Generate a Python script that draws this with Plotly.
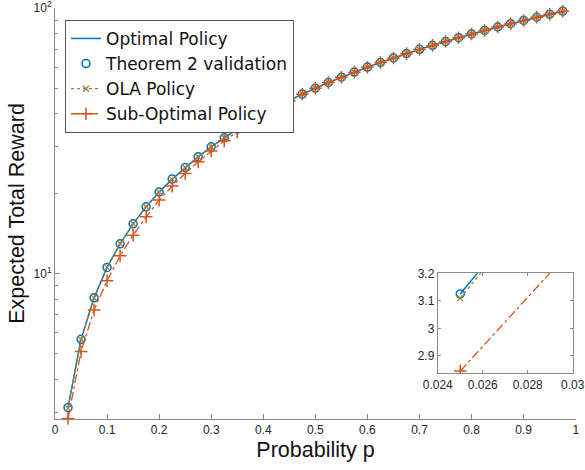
import plotly.graph_objects as go

p = [0.025, 0.05, 0.075, 0.1, 0.125, 0.15, 0.175, 0.2, 0.225, 0.25,
     0.275, 0.3, 0.325, 0.35, 0.375, 0.4, 0.425, 0.45, 0.475, 0.5,
     0.525, 0.55, 0.575, 0.6, 0.625, 0.65, 0.675, 0.7, 0.725, 0.75,
     0.775, 0.8, 0.825, 0.85, 0.875, 0.9, 0.925, 0.95, 0.975]

optimal = [3.125, 5.65, 8.10, 10.55, 12.95, 15.40, 17.85, 20.30, 22.70, 25.10,
           27.55, 30.05, 32.50, 35.00, 37.50, 40.00, 42.50, 45.00, 47.50, 50.0,
           52.5, 55.0, 57.5, 60.0, 62.5, 65.0, 67.5, 70.0, 72.5, 75.0,
           77.5, 80.0, 82.5, 85.0, 87.5, 90.0, 92.5, 95.0, 97.5]

theorem2 = list(optimal)

ola = [3.11, 5.65, 8.10, 10.55, 12.95, 15.40, 17.85, 20.30, 22.70, 25.10,
       27.55, 30.05, 32.50, 35.00, 37.50, 40.00, 42.50, 45.00, 47.50, 50.0,
       52.5, 55.0, 57.5, 60.0, 62.5, 65.0, 67.5, 70.0, 72.5, 75.0,
       77.5, 80.0, 82.5, 85.0, 87.5, 90.0, 92.5, 95.0, 97.5]

suboptimal = [2.845, 5.08, 7.29, 9.40, 11.67, 13.96, 16.36, 18.92, 21.36, 23.84,
              26.37, 29.00, 31.64, 34.20, 36.90, 39.50, 42.20, 44.85, 47.40, 49.95,
              52.45, 54.95, 57.45, 59.95, 62.45, 64.95, 67.45, 69.95, 72.45, 74.95,
              77.45, 79.95, 82.45, 84.95, 87.45, 89.95, 92.45, 94.95, 97.45]

x_ticks = [0, 0.1, 0.2, 0.3, 0.4, 0.5, 0.6, 0.7, 0.8, 0.9, 1]
x_ticklabels = ["0", "0.1", "0.2", "0.3", "0.4", "0.5", "0.6", "0.7", "0.8", "0.9", "1"]
y_ticks = [10, 100]
y_ticklabels = ["10<sup>1</sup>", "10<sup>2</sup>"]
y_minor = [3, 4, 5, 6, 7, 8, 9, 20, 30, 40, 50, 60, 70, 80, 90]

inset_x_ticks = [0.024, 0.026, 0.028, 0.03]
inset_x_labels = ["0.024", "0.026", "0.028", "0.03"]
inset_y_ticks = [2.9, 3.0, 3.1, 3.2]
inset_y_labels = ["2.9", "3", "3.1", "3.2"]

BLUE = "#0072BD"
ORANGE = "#D95319"
OLIVE = "#9E8030"
AXC = "#8a8a8a"
TXT = "#262626"
FONT = "Liberation Sans, Arial, Helvetica, sans-serif"

fig = go.Figure()

def add_traces(xa, ya, show, clip):
    fig.add_trace(go.Scatter(x=p, y=optimal, mode="lines", name="Optimal Policy",
                             line=dict(color=BLUE, width=1.5), xaxis=xa, yaxis=ya,
                             showlegend=show, cliponaxis=clip))
    fig.add_trace(go.Scatter(x=p, y=theorem2, mode="markers", name="Theorem 2 validation",
                             marker=dict(symbol="circle-open", size=8, color=BLUE,
                                         line=dict(width=1.5, color=BLUE)),
                             xaxis=xa, yaxis=ya, showlegend=show, cliponaxis=clip))
    fig.add_trace(go.Scatter(x=p, y=ola, mode="lines+markers", name="OLA Policy",
                             line=dict(color=OLIVE, width=1.3, dash="dot"),
                             marker=dict(symbol="x-thin-open", size=6, color=OLIVE,
                                         line=dict(width=1.3, color=OLIVE)),
                             xaxis=xa, yaxis=ya, showlegend=show, cliponaxis=clip))
    fig.add_trace(go.Scatter(x=p, y=suboptimal, mode="lines+markers", name="Sub-Optimal Policy",
                             line=dict(color=ORANGE, width=1.3, dash="dashdot"),
                             marker=dict(symbol="cross-thin-open", size=9, color=ORANGE,
                                         line=dict(width=1.5, color=ORANGE)),
                             xaxis=xa, yaxis=ya, showlegend=show, cliponaxis=clip))

add_traces("x", "y", True, False)
add_traces("x2", "y2", False, True)

fig.update_layout(
    width=585, height=470,
    margin=dict(l=55, r=9, t=8, b=51, autoexpand=False),
    paper_bgcolor="white", plot_bgcolor="white",
    font=dict(family=FONT, color=TXT, size=12),
    xaxis=dict(domain=[0, 1], range=[0, 1.0005], tickmode="array", tickvals=x_ticks,
               ticktext=x_ticklabels, ticks="inside", ticklen=5, tickcolor=AXC,
               showline=True, linecolor=AXC, linewidth=1, showgrid=False, zeroline=False,
               tickfont=dict(size=12, color=TXT), automargin=False, ticklabeloverflow="allow",
               title=dict(text="Probability p", font=dict(size=21.5, color="#111"), standoff=5)),
    yaxis=dict(domain=[0, 1], type="log", range=[0.4518, 2.001], tickmode="array",
               tickvals=y_ticks, ticktext=y_ticklabels, ticks="inside", ticklen=5,
               tickcolor=AXC, showline=True, linecolor=AXC, linewidth=1, showgrid=False,
               zeroline=False, tickfont=dict(size=12, color=TXT), automargin=False,
               ticklabeloverflow="allow",
               minor=dict(tickmode="array", tickvals=y_minor, ticks="inside", ticklen=3,
                          tickcolor=AXC, showgrid=False),
               title=dict(text="Expected Total Reward", font=dict(size=21.5, color="#111"), standoff=3)),
    xaxis2=dict(domain=[0.7346, 0.9937], anchor="y2", range=[0.024, 0.03], tickmode="array",
                tickvals=inset_x_ticks, ticktext=inset_x_labels, automargin=False,
                ticklabeloverflow="allow",
                ticks="inside", ticklen=3, tickcolor=AXC, showline=True, linecolor=AXC,
                mirror="ticks", showgrid=False, zeroline=False,
                tickfont=dict(size=12, color=TXT)),
    yaxis2=dict(domain=[0.1112, 0.3545], anchor="x2", range=[2.837, 3.2], tickmode="array",
                tickvals=inset_y_ticks, ticktext=inset_y_labels, automargin=False,
                ticklabeloverflow="allow",
                ticks="inside", ticklen=3, tickcolor=AXC, showline=True, linecolor=AXC,
                mirror="ticks", showgrid=False, zeroline=False,
                tickfont=dict(size=12, color=TXT)),
    legend=dict(x=0.0192, y=0.971, xanchor="left", yanchor="top",
                bgcolor="white", bordercolor="#555", borderwidth=1,
                font=dict(size=17, color="#111", family="DejaVu Sans, sans-serif"),
                tracegroupgap=0, itemwidth=30),
    showlegend=True,
)

fig.add_shape(type="rect", xref="x2 domain", yref="y2 domain", x0=0, y0=0, x1=1, y1=1,
              fillcolor="white", line=dict(width=0), layer="below")

fig.write_html("out.html", config={"displayModeBar": False},
               post_script="document.body.style.margin='0';")
